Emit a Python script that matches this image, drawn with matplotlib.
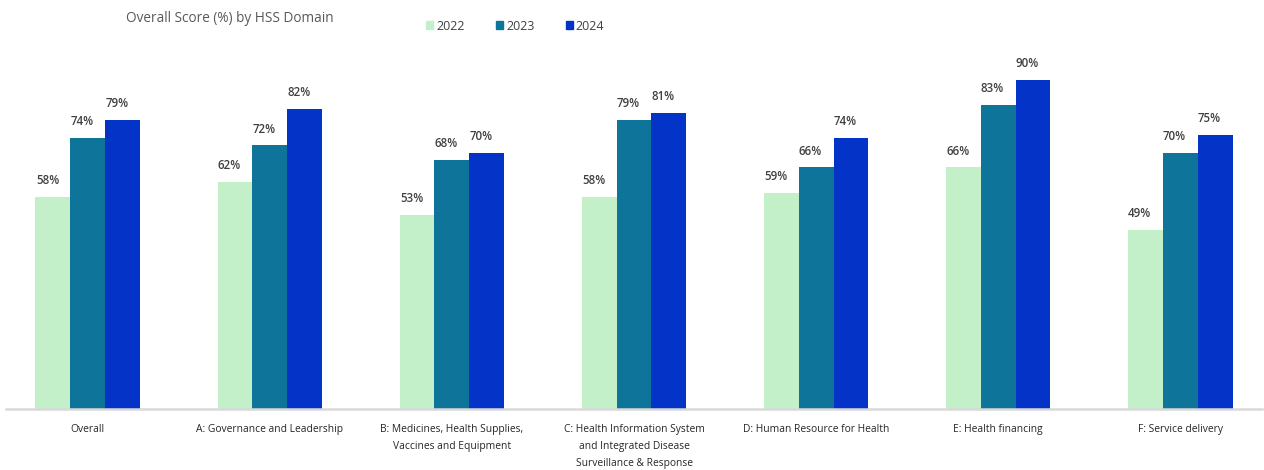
import matplotlib
matplotlib.use("Agg")
import matplotlib.pyplot as plt
import numpy as np
from matplotlib.patches import Rectangle

categories = [
    "Overall",
    "A: Governance and Leadership",
    "B: Medicines, Health Supplies,\nVaccines and Equipment",
    "C: Health Information System\nand Integrated Disease\nSurveillance & Response",
    "D: Human Resource for Health",
    "E: Health financing",
    "F: Service delivery",
]
years = ["2022", "2023", "2024"]
scores_2022 = [58, 62, 53, 58, 59, 66, 49]
scores_2023 = [74, 72, 68, 79, 66, 83, 70]
scores_2024 = [79, 82, 70, 81, 74, 90, 75]

colors = ["#c3f0c9", "#0f7499", "#0433c8"]
series = [scores_2022, scores_2023, scores_2024]

plt.rcParams["font.family"] = ["Open Sans", "DejaVu Sans"]

fig = plt.figure(figsize=(12.64, 4.70), dpi=100)
W, H = 1264, 470
ax_left, ax_right = 6, 1262
ax_top, ax_bottom = 43, 409
ax = fig.add_axes([ax_left / W, 1 - ax_bottom / H,
                   (ax_right - ax_left) / W, (ax_bottom - ax_top) / H])

x = np.arange(len(categories))
bw = 0.192
for i, (vals, c) in enumerate(zip(series, colors)):
    pos = x + (i - 1) * bw
    bars = ax.bar(pos, vals, width=bw, color=c, edgecolor="none", zorder=2)
    for b, v in zip(bars, vals):
        ax.annotate(f"{v}%", (b.get_x() + b.get_width() / 2 - 0.03, v),
                    xytext=(0, 7), textcoords="offset points",
                    ha="center", va="bottom", fontsize=8.3,
                    color="#404040", fontweight="semibold",
                    family=["Liberation Sans Narrow", "Open Sans", "DejaVu Sans"])

ax.set_xlim(-0.45, 6.45)
ax.set_ylim(0, 100)
for s in ["top", "right", "left"]:
    ax.spines[s].set_visible(False)
ax.spines["bottom"].set_color("#d9d9d9")
ax.spines["bottom"].set_linewidth(1.8)
ax.set_yticks([])
ax.set_xticks(x)
ax.set_xticklabels(categories, fontsize=7.4, color="#262626", linespacing=1.75,
                   family=["Liberation Sans Narrow", "Open Sans", "DejaVu Sans"])
ax.tick_params(axis="x", length=0, pad=11)

fig.text(126 / W, 1 - 18 / H, "Overall Score (%) by HSS Domain",
         fontsize=9.8, color="#595959", ha="left", va="center")

handles = [Rectangle((0, 0), 1, 1, color=c) for c in colors]
leg = fig.legend(handles, years, loc="center left",
                 bbox_to_anchor=(415 / W, 1 - 26 / H), ncol=3, frameon=False,
                 fontsize=9, handlelength=0.55, handleheight=0.55,
                 handletextpad=0.25, columnspacing=2.5, labelcolor="#404040")

fig.savefig("out.png", dpi=100)
